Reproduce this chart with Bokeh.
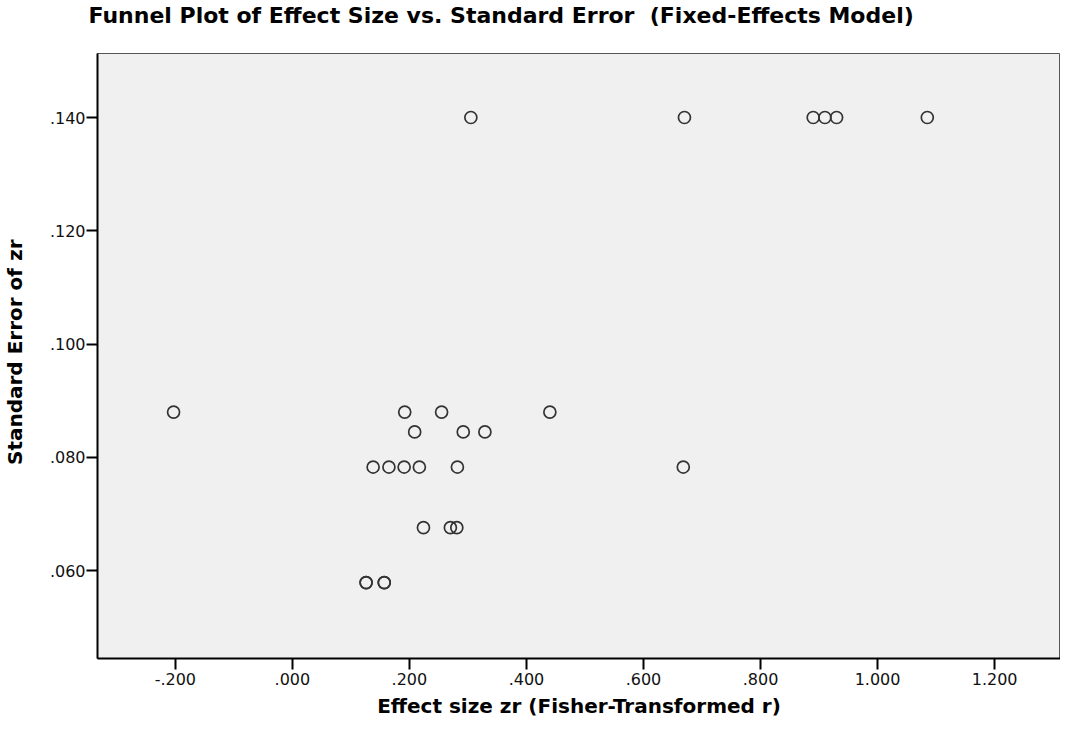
from bokeh.plotting import figure
from bokeh.models import FixedTicker, ColumnDataSource, Title
from bokeh.embed import file_html
from bokeh.resources import INLINE

# ---- data ----
effect_size = [-0.203, 0.192, 0.255, 0.440,
               0.209, 0.292, 0.329,
               0.138, 0.165, 0.191, 0.217, 0.282, 0.668,
               0.224, 0.270, 0.281,
               0.126, 0.126, 0.157, 0.157,
               0.305, 0.670, 0.890, 0.910, 0.930, 1.085]
std_error = [0.0880, 0.0880, 0.0880, 0.0880,
             0.0845, 0.0845, 0.0845,
             0.0783, 0.0783, 0.0783, 0.0783, 0.0783, 0.0783,
             0.0676, 0.0676, 0.0676,
             0.0579, 0.0579, 0.0579, 0.0579,
             0.1400, 0.1400, 0.1400, 0.1400, 0.1400, 0.1400]

x_ticks = [-0.2, 0.0, 0.2, 0.4, 0.6, 0.8, 1.0, 1.2]
x_tick_labels = ["-.200", ".000", ".200", ".400", ".600", ".800", "1.000", "1.200"]
y_ticks = [0.06, 0.08, 0.10, 0.12, 0.14]
y_tick_labels = [".060", ".080", ".100", ".120", ".140"]

title = "Funnel Plot of Effect Size vs. Standard Error \u00a0(Fixed-Effects Model)"
x_label = "Effect size zr (Fisher-Transformed r)"
y_label = "Standard Error of zr"

FONT = "DejaVu Sans"

p = figure(width=1060, height=722, output_backend="svg", toolbar_location=None,
           x_range=(-0.333, 1.3126), y_range=(0.0445, 0.1513),
           min_border_left=97, min_border_top=53, min_border_bottom=64,
           min_border_right=0)

# default title unused; a thin spacer sits next to the frame and the real title above it
p.title.text = ""
p.title.standoff = 0
p.add_layout(Title(text=" ", text_font_size="2px", standoff=22), "above")
p.add_layout(Title(text=title, text_font=FONT, text_font_size="22px",
                   text_font_style="bold", text_color="#000000",
                   align="left", offset=-9, standoff=0), "above")

p.background_fill_color = "#f0f0f0"
p.border_fill_color = "#ffffff"
p.outline_line_color = "#555555"
p.outline_line_width = 1
p.xgrid.visible = False
p.ygrid.visible = False

src = ColumnDataSource(data=dict(x=effect_size, y=std_error))
p.scatter("x", "y", source=src, marker="circle", size=12,
          fill_color=None, line_color="#333333", line_width=1.7)

p.xaxis.ticker = FixedTicker(ticks=x_ticks)
p.xaxis.major_label_overrides = {t: l for t, l in zip(x_ticks, x_tick_labels)}
p.yaxis.ticker = FixedTicker(ticks=y_ticks)
p.yaxis.major_label_overrides = {t: l for t, l in zip(y_ticks, y_tick_labels)}

for ax in (p.xaxis, p.yaxis):
    ax.axis_line_color = "#000000"
    ax.axis_line_width = 2
    ax.major_tick_line_color = "#000000"
    ax.major_tick_line_width = 2
    ax.major_tick_out = 11
    ax.major_tick_in = 0
    ax.minor_tick_line_color = None
    ax.major_label_text_font = FONT
    ax.major_label_text_font_size = "16px"
    ax.major_label_text_color = "#111111"

p.xaxis.axis_label = x_label
p.xaxis.axis_label_text_font = FONT
p.xaxis.axis_label_text_font_size = "20px"
p.xaxis.axis_label_text_font_style = "bold"
p.xaxis.axis_label_text_color = "#000000"
p.xaxis.major_label_standoff = 3
p.xaxis.axis_label_standoff = 6
p.yaxis.major_label_standoff = 1

# y-axis title, set a little above the frame's middle as in the reference
p.add_layout(Title(text=" ", text_font_size="2px", standoff=16), "left")
p.add_layout(Title(text=y_label, text_font=FONT, text_font_size="20px",
                   text_font_style="bold", text_color="#000000",
                   align="right", offset=186, standoff=0), "left")

open("out.html", "w").write(file_html(p, INLINE))
